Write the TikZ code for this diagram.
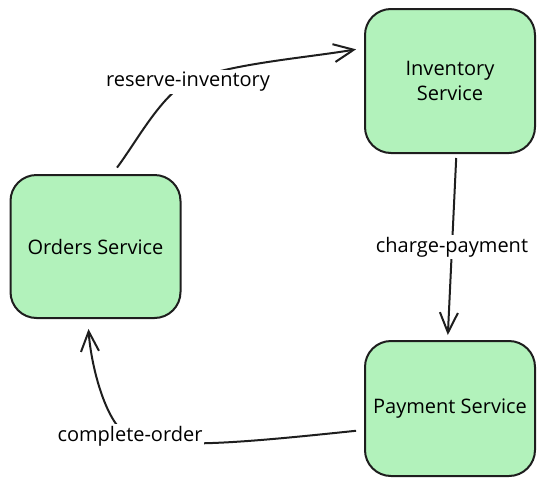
\documentclass[tikz,border=0pt]{standalone}
\usepackage{fontspec}
\setmainfont{Open Sans}
\usepackage{tikz}
\usetikzlibrary{arrows.meta}

\definecolor{boxgreen}{HTML}{B2F2BB}
\definecolor{inkgray}{HTML}{1E1E1E}

\tikzset{
	svc/.style={draw=inkgray, fill=boxgreen, line width=2pt, rounded corners=26pt, align=center, minimum width=170pt, font=\fontsize{20}{25}\selectfont},
	lbl/.style={fill=white, inner sep=2pt, font=\fontsize{20}{22}\selectfont},
	flow/.style={draw=inkgray, line width=2pt, -{Straight Barb[length=20pt,width=18pt]}},
}

\begin{document}
\begin{tikzpicture}[x=1pt, y=-1pt]
				\useasboundingbox (0,0) rectangle (544,493);

				\begin{scope}
					\node [svc, minimum height=143pt] (orders) at (95.5,246.5) {Orders Service};
					\node [svc, minimum height=144pt] (inventory) at (450,81) {Inventory\\Service};
					\node [svc, minimum height=135pt] (payment) at (450,408.5) {Payment Service};
				\end{scope}

				\coordinate (ribend) at (188,82);
				\coordinate (cobend) at (130,436);

				\begin{scope}[shorten <=8pt, shorten >=8pt]
					\draw [flow] (orders.77) .. controls +(24,-32) and +(-26.9,13.3) .. (ribend) node [lbl] {reserve-inventory} .. controls +(35.8,-17.8) and +(-59,10) .. (inventory.159);
					\draw [flow, shorten <=4pt, shorten >=5pt] (inventory.-85) -- node [lbl] {charge-payment} (payment.92);
					\draw [flow, shorten >=10pt] (payment.194) .. controls +(-115,12) and +(37.5,14) .. (cobend) node [lbl] {complete-order} .. controls +(-23.4,-8.8) and +(3,47) .. (orders.264);
				\end{scope}
			\end{tikzpicture}
\end{document}
